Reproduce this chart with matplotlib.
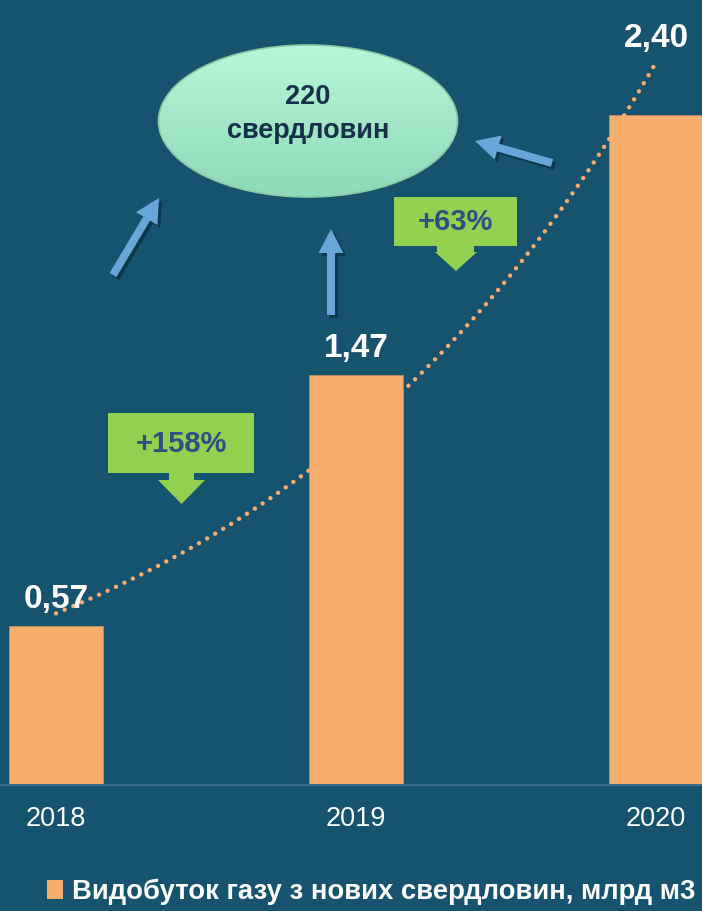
import numpy as np
import matplotlib
matplotlib.use("Agg")
import matplotlib.pyplot as plt
import matplotlib.patheffects as pe
from matplotlib.patches import Ellipse, Polygon, FancyArrow, Patch

#   Chart data
years = ["2018", "2019", "2020"]
gas = [0.57, 1.47, 2.40]
valueLabels = ["0,57", "1,47", "2,40"]
growthLabels = ["+158%", "+63%"]
wellsText = "220\nсвердловин"
legendText = "Видобуток газу з нових свердловин, млрд м3"

bgColor = "#15536F"
barColor = "#F6AD6E"
greenColor = "#92D050"
arrowColor = "#69A6D8"

plt.rcParams['font.family'] = ['Liberation Sans', 'DejaVu Sans']

W, H = 702, 911
fig = plt.figure(figsize=(W / 100, H / 100), dpi=100)
fig.patch.set_facecolor(bgColor)

#   Main axes: bottom edge sits on the baseline (pixel 785)
base = 785
ax = fig.add_axes([0, (H - base) / H, 1, base / H])
ax.set_facecolor(bgColor)
x = np.arange(len(years))
ax.bar(x, gas, width=0.313, color=barColor, edgecolor="#C98A55", linewidth=0.6, zorder=2)
ax.set_xlim(-56 / 300, (W - 56) / 300)
ax.set_ylim(0, base / 279)
ax.set_xticks(x)
ax.set_xticklabels(years, color="white", fontsize=19.5)
ax.tick_params(axis='x', length=0, pad=15)
ax.set_yticks([])
for s in ["top", "left", "right"]:
    ax.spines[s].set_visible(False)
ax.spines["bottom"].set_color("#3D6D8A")
ax.spines["bottom"].set_linewidth(1.5)

#   Exponential trendline fitted on the values
coef = np.polyfit(x + 1, np.log(gas), 1)
xt = np.linspace(0, 2, 200)
yt = np.exp(np.polyval(coef, xt + 1))
ax.plot(xt, yt, color=barColor, lw=3.2, linestyle=(0, (0.01, 2.1)),
        dash_capstyle='round', zorder=3)

#   Value labels
offsets = [8, 8, 44]
for i in range(len(gas)):
    ax.annotate(valueLabels[i], (x[i], gas[i]), xytext=(0, offsets[i]),
                textcoords="offset points", ha="center", va="bottom",
                color="white", fontsize=24, fontweight="bold", zorder=4)

#   Legend
fig.legend([Patch(facecolor=barColor, edgecolor="none")], [legendText],
           loc="center", bbox_to_anchor=(371 / W, 1 - 892 / H), frameon=False,
           handlelength=0.6, handleheight=0.7, handletextpad=0.3,
           prop={'size': 19.8, 'weight': 'bold'}, labelcolor="white")

#   Overlay in pixel coordinates for the decorations
ov = fig.add_axes([0, 0, 1, 1])
ov.set_xlim(0, W)
ov.set_ylim(H, 0)
ov.axis("off")
ov.patch.set_alpha(0)

#   Ellipse with vertical gradient
ell = Ellipse((308, 121), 299, 152, facecolor="none", edgecolor="#8CC9A6", lw=1.2, zorder=3)
ov.add_patch(ell)
grad = np.linspace(0, 1, 256).reshape(-1, 1)
top = np.array([0.72, 0.97, 0.85])
bot = np.array([0.55, 0.85, 0.72])
img = top + grad[..., None] * (bot - top)
im = ov.imshow(np.repeat(img, 2, axis=1), extent=(158, 458, 197, 45), aspect="auto", zorder=2)
im.set_clip_path(ell)
ov.set_xlim(0, W)
ov.set_ylim(H, 0)
ov.text(308, 114, wellsText, ha="center", va="center", fontsize=19.5, fontweight="bold",
        color="#17304A", linespacing=1.45, zorder=4)

#   Green growth boxes with down arrows
def growth_box(x0, y0, x1, y1, sx0, sx1, sy1, hx0, hx1, tipy, label):
    cx = (hx0 + hx1) / 2
    pts = [(x0, y0), (x1, y0), (x1, y1), (sx1, y1), (sx1, sy1), (hx1, sy1), (cx, tipy),
           (hx0, sy1), (sx0, sy1), (sx0, y1), (x0, y1)]
    ov.add_patch(Polygon(pts, closed=True, facecolor=greenColor, edgecolor="none", zorder=3))
    ov.text((x0 + x1) / 2, (y0 + y1) / 2 + 1, label, ha="center", va="center", fontsize=21,
            fontweight="bold", color="#2D5081", zorder=4)

growth_box(108, 413, 254, 473, 169, 194, 480, 158, 205, 504, growthLabels[0])
growth_box(394, 197, 517, 246, 437, 474, 252, 435, 477, 271, growthLabels[1])

#   Blue arrows pointing to the wells ellipse
shadow = [pe.withSimplePatchShadow(offset=(2, -2), shadow_rgbFace="black", alpha=0.35)]
for (tx, ty, hx, hy) in [(113, 275, 159, 198), (331, 315, 331, 229), (552, 163, 475, 141)]:
    a = FancyArrow(tx, ty, hx - tx, hy - ty, width=8, head_width=25, head_length=24,
                   length_includes_head=True, facecolor=arrowColor, edgecolor="none", zorder=3)
    a.set_path_effects(shadow)
    ov.add_patch(a)

fig.savefig("out.png", dpi=100, facecolor=bgColor)
